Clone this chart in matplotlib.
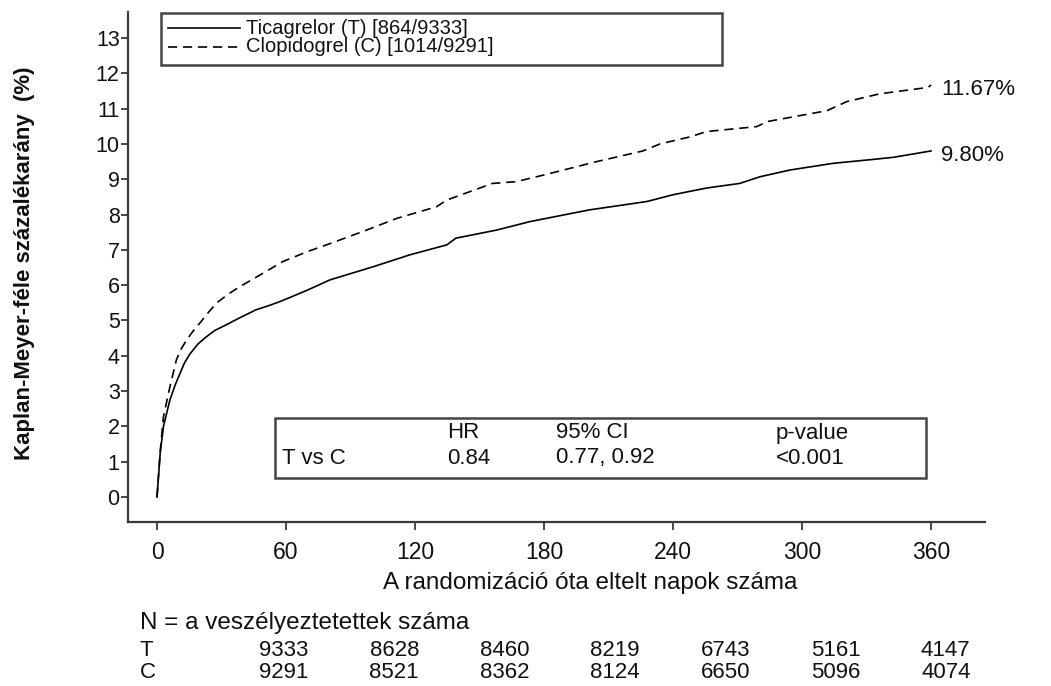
import matplotlib
matplotlib.use("Agg")
import matplotlib.pyplot as plt
from matplotlib.patches import Rectangle
from matplotlib.lines import Line2D

plt.rcParams['font.family'] = ['Liberation Sans', 'DejaVu Sans']

# ---------------- data ----------------
days_t = [0, 1.5, 3, 6, 8.5, 10.7, 12.8, 15.3, 19, 23, 27, 32, 38, 46, 52, 57, 63, 70, 80.5,
          100.5, 117.7, 134.8, 139, 158, 173.5, 201, 228, 240, 255.6, 271, 280.5, 294.4,
          314.5, 333, 342.5, 360]
ticag = [0, 1.25, 2.0, 2.75, 3.18, 3.5, 3.8, 4.05, 4.33, 4.54, 4.72, 4.87, 5.06, 5.3, 5.42,
         5.53, 5.68, 5.86, 6.15, 6.52, 6.86, 7.14, 7.33, 7.56, 7.8, 8.13, 8.37, 8.56, 8.75,
         8.88, 9.07, 9.26, 9.45, 9.56, 9.62, 9.80]

days_c = [0, 1.5, 3, 6, 9, 11.3, 13.8, 16.8, 20, 23.8, 27.8, 33, 38.6, 48, 58.6, 70, 82, 97.5,
          111.5, 130, 134.8, 156, 167, 180, 204.6, 226, 234, 248, 255.6, 279, 283.6, 311.6,
          320.9, 336.3, 358.7, 360]
clop = [0, 1.3, 2.27, 3.12, 3.88, 4.2, 4.45, 4.7, 4.93, 5.22, 5.5, 5.74, 5.96, 6.29, 6.67, 6.95,
        7.21, 7.56, 7.89, 8.22, 8.41, 8.88, 8.93, 9.12, 9.5, 9.8, 10.0, 10.2, 10.35, 10.49,
        10.63, 10.94, 11.2, 11.42, 11.6, 11.67]

series_labels = ["Ticagrelor (T) [864/9333]", "Clopidogrel (C) [1014/9291]"]
x_ticks = [0, 60, 120, 180, 240, 300, 360]
y_ticks = list(range(0, 14))

hr_header = ["HR", "95% CI", "p-value"]
hr_row = ["T vs C", "0.84", "0.77, 0.92", "<0.001"]

risk_title = "N = a veszélyeztetettek száma"
risk_groups = ["T", "C"]
risk_t = [9333, 8628, 8460, 8219, 6743, 5161, 4147]
risk_c = [9291, 8521, 8362, 8124, 6650, 5096, 4074]

xlabel = "A randomizáció óta eltelt napok száma"
ylabel = "Kaplan-Meyer-féle százalékarány  (%)"

# ---------------- figure ----------------
W, H = 1051, 686
fig = plt.figure(figsize=(W / 100, H / 100), dpi=100)


def fx(px):
    return px / W


def fy(py):
    return 1 - py / H


ax_l, ax_r, ax_t, ax_b = 128, 985, 12, 522
ax = fig.add_axes([fx(ax_l), fy(ax_b), fx(ax_r - ax_l), (ax_b - ax_t) / H])
ax.set_xlim(-13.49, 385.1)
ax.set_ylim(-0.708, 13.735)

txt_col = '#111111'
sp_col = '#3a3a3a'

ax.plot(days_t, ticag, color='black', lw=1.2)
ax.plot(days_c, clop, color='black', lw=1.2, linestyle=(0, (5.5, 3.5)))

for s in ['top', 'right']:
    ax.spines[s].set_visible(False)
for s in ['left', 'bottom']:
    ax.spines[s].set_color(sp_col)
    ax.spines[s].set_linewidth(1.6)

ax.set_xticks(x_ticks)
ax.set_xticklabels([str(v) for v in x_ticks])
ax.set_yticks(y_ticks)
ax.set_yticklabels([str(v) for v in y_ticks])
ax.tick_params(axis='y', direction='out', length=5, width=1.3, color=sp_col, pad=1,
               labelsize=15.5, labelcolor=txt_col)
ax.tick_params(axis='x', direction='out', length=6, width=1.3, color=sp_col, pad=8,
               labelsize=16.5, labelcolor=txt_col)

ax.set_xlabel(xlabel, fontsize=17.5, color=txt_col)
ax.xaxis.label.set_va('center')
ax.xaxis.set_label_coords((590 - ax_l) / (ax_r - ax_l), (ax_b - 583) / (ax_b - ax_t))
ax.set_ylabel(ylabel, fontsize=16, fontweight='bold', color=txt_col)
ax.yaxis.label.set_va('center')
ax.yaxis.set_label_coords((25 - ax_l) / (ax_r - ax_l), (ax_b - 263) / (ax_b - ax_t))

# end labels
ax.annotate(f"{clop[-1]:.2f}%", xy=(days_c[-1], clop[-1]), xytext=(7, -3.6),
            textcoords='offset points', fontsize=16, va='center', ha='left', color=txt_col)
ax.annotate(f"{ticag[-1]:.2f}%", xy=(days_t[-1], ticag[-1]), xytext=(7, -3.6),
            textcoords='offset points', fontsize=16, va='center', ha='left', color=txt_col)

# legend box (figure pixel placement)
box_col = '#444444'
fig.patches.append(Rectangle((fx(161), fy(65)), fx(722 - 161), (65 - 13) / H,
                             transform=fig.transFigure, fill=False, lw=1.8, ec=box_col))
for i, (lab, ls) in enumerate(zip(series_labels, ['-', (0, (5.5, 3.5))])):
    yy = [28, 47][i]
    fig.lines.append(Line2D([fx(168), fx(240)], [fy(yy), fy(yy)], transform=fig.transFigure,
                            color='black', lw=1.2, linestyle=ls))
    fig.text(fx(246), fy(yy), lab, fontsize=14.5, va='center', ha='left', color=txt_col)

# HR box
fig.patches.append(Rectangle((fx(275), fy(478)), fx(926 - 275), (478 - 418) / H,
                             transform=fig.transFigure, fill=False, lw=1.8, ec=box_col))
hx = [447, 556, 776]
for x, s in zip(hx, hr_header):
    fig.text(fx(x), fy(433), s, fontsize=16, va='center', ha='left', color=txt_col)
for x, s in zip([282] + hx, hr_row):
    fig.text(fx(x), fy(458), s, fontsize=16, va='center', ha='left', color=txt_col)

# number at risk
fig.text(fx(140), fy(623), risk_title, fontsize=17.5, va='center', ha='left', color=txt_col)
for g, vals, yy in zip(risk_groups, [risk_t, risk_c], [651, 673]):
    fig.text(fx(140), fy(yy), g, fontsize=16, va='center', ha='left', color=txt_col)
    for i, v in enumerate(vals):
        fig.text(fx(284 + i * 110.3), fy(yy), str(v), fontsize=16, va='center', ha='center',
                 color=txt_col)

fig.savefig("out.png", dpi=100, facecolor='white')
